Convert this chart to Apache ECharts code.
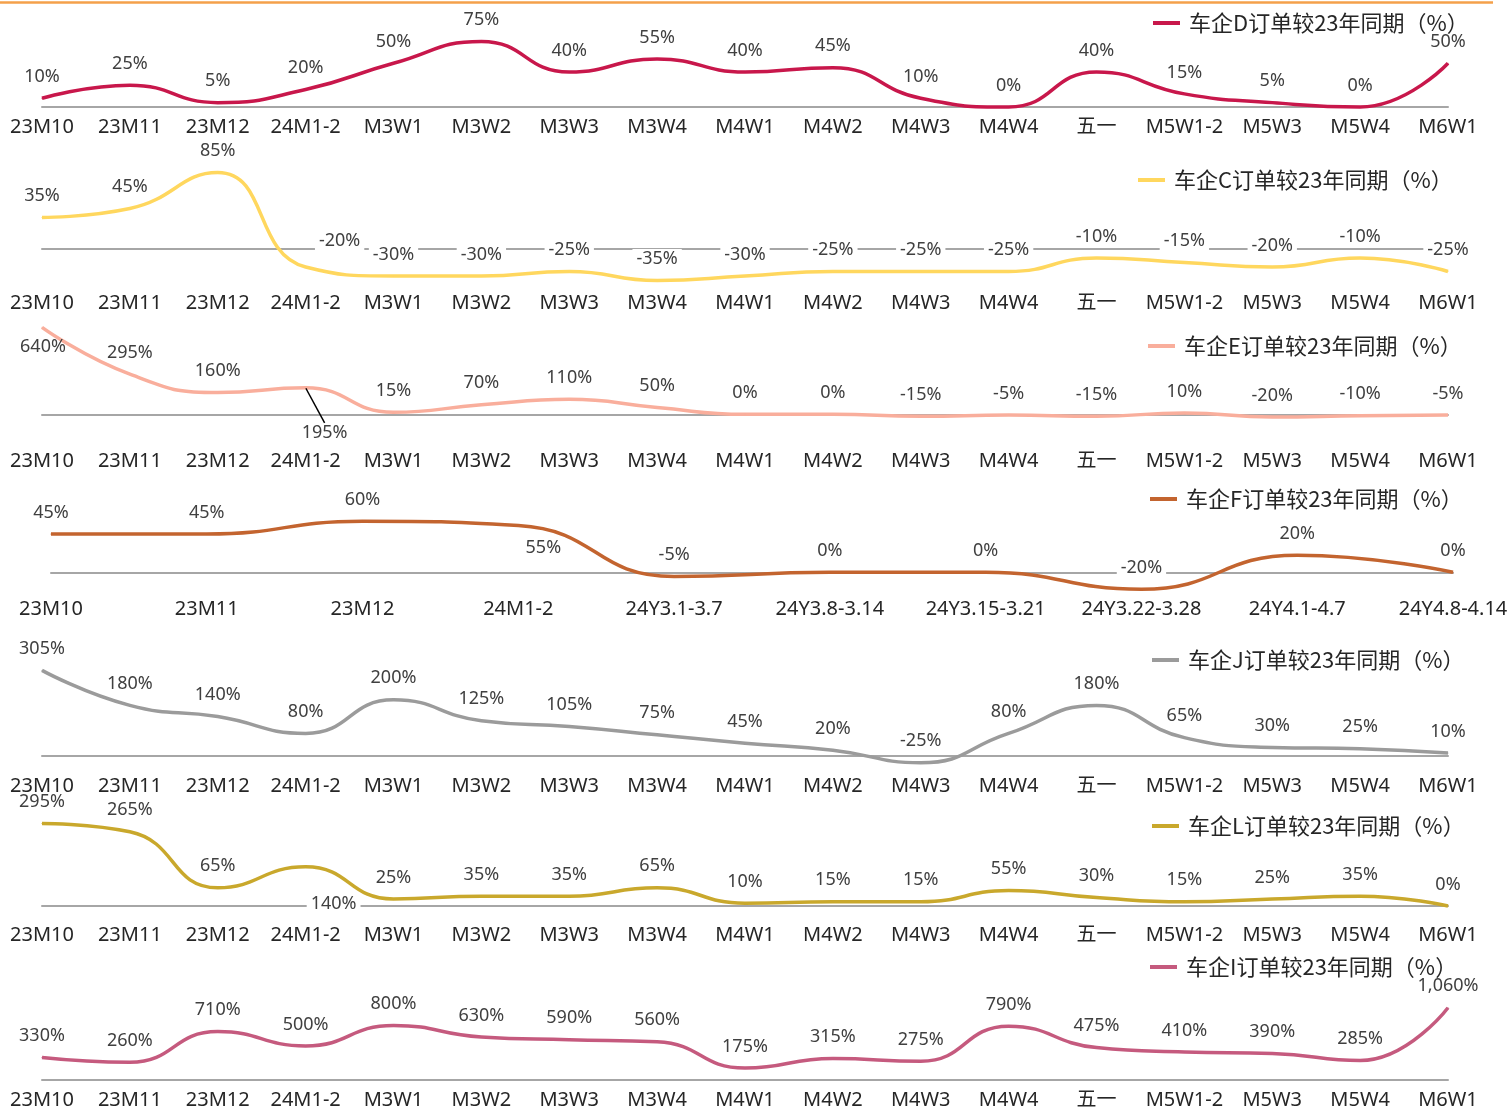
<!DOCTYPE html>
<html>
<head>
<meta charset="UTF-8">
<title>车企订单较23年同期</title>
<script src="https://cdn.jsdelivr.net/npm/echarts@6/dist/echarts.min.js"></script>
<style>
  html, body { margin: 0; padding: 0; background: #fff; }
  #main { width: 1512px; height: 1110px; }
</style>
</head>
<body>
<div id="main"></div>
<script type="text/javascript">
    // 横轴
    var weeks = ['23M10', '23M11', '23M12', '24M1-2', 'M3W1', 'M3W2', 'M3W3', 'M3W4', 'M4W1', 'M4W2',
        'M4W3', 'M4W4', '五一', 'M5W1-2', 'M5W3', 'M5W4', 'M6W1'];
    var weeksF = ['23M10', '23M11', '23M12', '24M1-2', '24Y3.1-3.7', '24Y3.8-3.14', '24Y3.15-3.21',
        '24Y3.22-3.28', '24Y4.1-4.7', '24Y4.8-4.14'];

    // 各车企订单较23年同期 (%)
    var carD = [10, 25, 5, 20, 50, 75, 40, 55, 40, 45, 10, 0, 40, 15, 5, 0, 50];
    var carC = [35, 45, 85, -20, -30, -30, -25, -35, -30, -25, -25, -25, -10, -15, -20, -10, -25];
    var carE = [640, 295, 160, 195, 15, 70, 110, 50, 0, 0, -15, -5, -15, 10, -20, -10, -5];
    var carF = [45, 45, 60, 55, -5, 0, 0, -20, 20, 0];
    var carJ = [305, 180, 140, 80, 200, 125, 105, 75, 45, 20, -25, 80, 180, 65, 30, 25, 10];
    var carL = [295, 265, 65, 140, 25, 35, 35, 65, 10, 15, 15, 55, 30, 15, 25, 35, 0];
    var carI = [330, 260, 710, 500, 800, 630, 590, 560, 175, 315, 275, 790, 475, 410, 390, 285, 1060];

    var latin = "'Noto Sans', 'Noto Sans CJK SC', sans-serif";
    var cjk = "'Noto Sans CJK SC', 'Noto Sans', sans-serif";

    // 每个小图: 网格位置, y轴范围, 图例位置, 颜色
    var panels = [
        {name: '车企D订单较23年同期（%）', data: carD, cats: weeks, color: '#C8174B', top: 37, height: 70, min: 0, max: 80, margin: 10, legend: [1148, 7]},
        {name: '车企C订单较23年同期（%）', data: carC, cats: weeks, color: '#FFD75E', top: 168, height: 117, min: -40, max: 90, margin: 8, legend: [1133, 164], whiteLabel: true},
        {name: '车企E订单较23年同期（%）', data: carE, cats: weeks, color: '#F9AE9C', top: 326, height: 91, min: -20, max: 650, margin: 34, legend: [1143, 330]},
        {name: '车企F订单较23年同期（%）', data: carF, cats: weeksF, color: '#C3642F', top: 517, height: 76.5, min: -25, max: 65, margin: 6, legend: [1145, 483], left: 51, right: 59},
        {name: '车企J订单较23年同期（%）', data: carJ, cats: weeks, color: '#9B9B9B', top: 669, height: 95.2, min: -30, max: 310, margin: 12, legend: [1147, 644]},
        {name: '车企L订单较23年同期（%）', data: carL, cats: weeks, color: '#C9A82C', top: 822, height: 84, min: 0, max: 300, margin: 19, legend: [1147, 810]},
        {name: '车企I订单较23年同期（%）', data: carI, cats: weeks, color: '#C55A7E', top: 1005, height: 77, min: 0, max: 1100, margin: 10, legend: [1145, 951]}
    ];

    // 个别标签位置调整 (相对数据点)
    var tweaks = {
        1: {3: {position: 'inside', offset: [34, -26]}},
        2: {0: {position: 'inside'}, 3: {position: 'inside'}},
        3: {3: {position: 'inside', offset: [25, 22], backgroundColor: '#fff'}, 7: {backgroundColor: '#fff'}},
        5: {3: {position: 'inside', offset: [28, 37], backgroundColor: '#fff'}}
    };

    function fmt(v) {
        return v.toLocaleString('en-US') + '%';
    }

    var grids = [], xAxes = [], yAxes = [], series = [], legends = [];
    panels.forEach(function (p, k) {
        grids.push({left: p.left || 42, right: p.right || 64, top: p.top, height: p.height});
        // 零线
        xAxes.push({
            type: 'category', gridIndex: k, data: p.cats, boundaryGap: false, position: 'bottom',
            axisLine: {show: true, onZero: true, lineStyle: {color: '#a6a6a6', width: 2}},
            axisTick: {show: false}, axisLabel: {show: false}
        });
        // 底部标签
        xAxes.push({
            type: 'category', gridIndex: k, data: p.cats, boundaryGap: false, position: 'bottom',
            axisLine: {show: false, onZero: false}, axisTick: {show: false},
            axisLabel: {interval: 0, margin: p.margin, color: '#262626', fontSize: 20, fontFamily: latin, hideOverlap: false}
        });
        yAxes.push({type: 'value', gridIndex: k, min: p.min, max: p.max, show: false, splitLine: {show: false}});

        var tw = tweaks[k] || {};
        var pts = p.data.map(function (v, i) {
            var item = {value: v};
            if (tw[i]) item.label = tw[i];
            if (k === 2 && i === 3) {
                item.labelLine = {show: true, lineStyle: {color: '#000', width: 1.5}};
            }
            return item;
        });

        series.push({
            name: p.name, type: 'line', xAxisIndex: 2 * k, yAxisIndex: k,
            smooth: 0.5, clip: false,
            symbol: 'circle', symbolSize: 1,
            lineStyle: {color: p.color, width: 3.5},
            itemStyle: {color: p.color},
            emphasis: {disabled: true},
            label: {
                show: true, position: 'top', distance: 11,
                color: '#404040', fontSize: 18, fontFamily: latin,
                backgroundColor: p.whiteLabel ? '#fff' : 'transparent',
                padding: [1, 4],
                formatter: function (q) { return fmt(q.value); }
            },
            labelLayout: k === 2 ? function (q) {
                if (q.dataIndex === 0) return {dx: 1, dy: 20};
                if (q.dataIndex === 3) return {dx: 19, dy: 45};
            } : null,
            data: pts,
            z: 3
        });

        legends.push({
            data: [p.name], left: p.legend[0], top: p.legend[1],
            icon: 'rect', itemWidth: 27, itemHeight: 4,
            selectedMode: false,
            textStyle: {fontSize: 22, color: '#262626', fontFamily: cjk, padding: [0, 0, 0, 4]}
        });
    });

    var myChart = echarts.init(document.getElementById('main'));
    myChart.setOption({
        animation: false,
        graphic: [{
            type: 'line', shape: {x1: 0, y1: 2.5, x2: 1493, y2: 2.5},
            style: {stroke: '#F4A04A', lineWidth: 2.5}
        }],
        legend: legends,
        grid: grids,
        xAxis: xAxes,
        yAxis: yAxes,
        series: series
    });
</script>
</body>
</html>
